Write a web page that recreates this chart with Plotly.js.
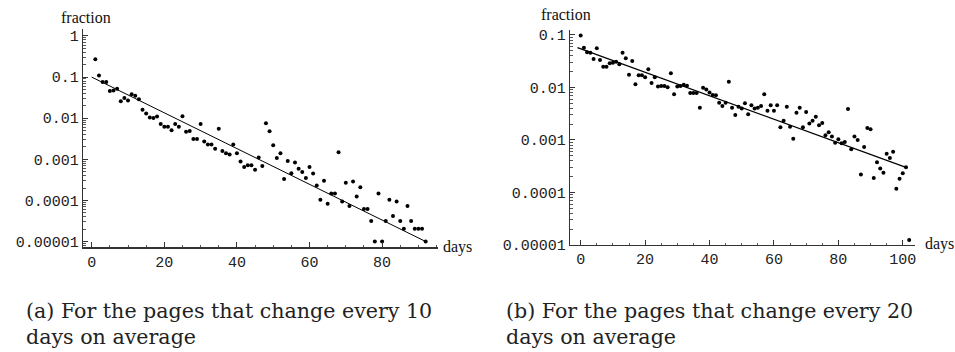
<!DOCTYPE html>
<html>
<head>
<meta charset="utf-8">
<script src="https://cdn.plot.ly/plotly-3.0.1.min.js"></script>
<style>
  html, body { margin: 0; padding: 0; background: #fff; }
  #chart { width: 955px; height: 352px; }
</style>
</head>
<body>
<div id="chart"></div>
<script>
// ---- Data: panel (a) pages that change every 10 days ----
const daysA = [1,2,3,4,5,6,7,8,9,10,11,12,13,14,15,16,17,18,19,20,
  21,22,23,24,25,26,27,28,29,30,31,32,33,34,35,36,37,38,39,40,
  41,42,43,44,45,46,47,48,49,50,51,52,53,54,55,56,57,58,59,60,
  61,62,63,64,65,66,67,68,69,70,71,72,73,74,75,76,77,78,79,80,
  81,82,83,84,85,86,87,88,89,90,91,92];
const fracA = [0.27,0.11,0.076,0.076,0.046,0.047,0.052,0.026,0.031,0.027,
  0.038,0.035,0.029,0.016,0.013,0.0104,0.0101,0.011,0.0072,0.0062,
  0.0062,0.0051,0.0072,0.0062,0.0112,0.0047,0.0049,0.0031,0.0031,0.0072,
  0.0027,0.0023,0.0023,0.0018,0.0055,0.0016,0.0014,0.0013,0.0023,0.0014,
  0.00089,0.00065,0.00072,0.00072,0.00056,0.0011,0.00069,0.0075,0.0048,0.0022,
  0.00107,0.00141,0.00033,0.00091,0.00046,0.00083,0.00059,0.00049,0.00035,0.00065,
  0.00045,0.00023,0.000103,0.0003,0.0000831,0.000147,0.000147,0.00149,0.000094,0.00027,
  0.000073,0.00029,0.000125,0.00021,0.000062,0.000062,0.0000316,0.00001,0.000147,0.00001,
  0.0000316,0.000103,0.0000417,0.000094,0.0000316,0.0000204,0.000073,0.0000316,0.0000204,0.0000204,
  0.0000204,0.00001];
const fitDaysA = [0, 92];
const fitFracA = [0.1, 0.00001];

// ---- Data: panel (b) pages that change every 20 days ----
const daysB = [0,1,2,3,4,5,6,7,8,9,10,11,12,13,14,15,16,17,18,19,
  20,21,22,23,24,25,26,27,28,29,30,31,32,33,34,35,36,37,38,39,
  40,41,42,43,44,45,46,47,48,49,50,51,52,53,54,55,56,57,58,59,
  60,61,62,63,64,65,66,67,68,69,70,71,72,73,74,75,76,77,78,79,
  80,81,82,83,84,85,86,87,88,89,90,91,92,93,94,95,96,97,98,99,
  100,101,102];
const fracB = [0.098,0.0574,0.0468,0.046,0.0349,0.0557,0.0334,0.0249,0.0249,0.0289,
  0.0297,0.031,0.0276,0.046,0.036,0.0175,0.032,0.0115,0.0171,0.0171,
  0.0156,0.0222,0.0122,0.0156,0.0104,0.0107,0.0107,0.0101,0.0186,0.0074,
  0.0104,0.0107,0.0113,0.0108,0.00785,0.00785,0.00785,0.00413,0.0099,0.0092,
  0.008,0.0072,0.0071,0.0051,0.00444,0.0051,0.0129,0.00413,0.003,0.00431,
  0.004,0.005,0.0031,0.00457,0.004,0.00413,0.00444,0.0074,0.00362,0.00457,
  0.00362,0.00457,0.00174,0.00233,0.00431,0.00179,0.00106,0.00332,0.00413,0.00174,
  0.00341,0.00207,0.00233,0.00278,0.0019,0.00211,0.00123,0.0014,0.00116,0.00089,
  0.00103,0.000865,0.000916,0.00389,0.000664,0.00116,0.001,0.000219,0.000736,0.00169,
  0.0016,0.000189,0.000376,0.000285,0.000239,0.00055,0.000454,0.0006,0.000118,0.000183,
  0.000232,0.000301,0.0000124];
const fitDaysB = [-1, 101];
const fitFracB = [0.0573, 0.000302];

// ---- Tick labels ----
const yTickValsA = [1, 0.1, 0.01, 0.001, 0.0001, 0.00001];
const yTickTextA = ['1', '0.1', '0.01', '0.001', '0.0001', '0.00001'];
const yTickValsB = [0.1, 0.01, 0.001, 0.0001, 0.00001];
const yTickTextB = ['0.1', '0.01', '0.001', '0.0001', '0.00001'];
const xTickValsA = [0, 20, 40, 60, 80];
const xTickValsB = [0, 20, 40, 60, 80, 100];

const captionA = ['(a) For the pages that change every 10', 'days on average'];
const captionB = ['(b) For the pages that change every 20', 'days on average'];

const W = 955, H = 352;
const px = v => v / W;
const py = v => (H - v) / H;

const monoFont = { family: 'Liberation Mono, Courier New, monospace', size: 15, color: '#222' };
const serifFont = { family: 'Liberation Serif, Times New Roman, serif', size: 16, color: '#111' };
const capFont = { family: 'DejaVu Serif, serif', size: 20.6, color: '#222' };

const traces = [
  { x: daysA, y: fracA, type: 'scatter', mode: 'markers', xaxis: 'x', yaxis: 'y',
    marker: { color: '#000', size: 4 }, hoverinfo: 'skip' },
  { x: fitDaysA, y: fitFracA, type: 'scatter', mode: 'lines', xaxis: 'x', yaxis: 'y',
    line: { color: '#000', width: 1 }, hoverinfo: 'skip' },
  { x: daysB, y: fracB, type: 'scatter', mode: 'markers', xaxis: 'x2', yaxis: 'y2',
    marker: { color: '#000', size: 4 }, hoverinfo: 'skip' },
  { x: fitDaysB, y: fitFracB, type: 'scatter', mode: 'lines', xaxis: 'x2', yaxis: 'y2',
    line: { color: '#000', width: 1.3 }, hoverinfo: 'skip' }
];

function xAxis(domain, range, tickvals, anchor) {
  return {
    domain: domain, range: range, anchor: anchor,
    showline: true, linecolor: '#333', linewidth: 1.2, mirror: false,
    showgrid: false, zeroline: false,
    tickmode: 'array', tickvals: tickvals, ticktext: tickvals.map(String),
    ticks: 'inside', ticklen: 5, tickcolor: '#333', tickwidth: 1,
    minor: { dtick: 5, ticks: 'inside', ticklen: 2.5, tickcolor: '#555', showgrid: false },
    tickfont: monoFont
  };
}
function yAxis(domain, range, tickvals, ticktext, anchor) {
  return {
    type: 'log', domain: domain, range: range, anchor: anchor,
    showline: true, linecolor: '#333', linewidth: 1.2, mirror: false,
    showgrid: false, zeroline: false,
    tickmode: 'array', tickvals: tickvals, ticktext: ticktext,
    ticks: 'inside', ticklen: 5, tickcolor: '#333', tickwidth: 1,
    minor: { dtick: 'D1', ticks: 'inside', ticklen: 2.5, tickcolor: '#555', showgrid: false },
    tickfont: monoFont
  };
}

const layout = {
  width: W, height: H,
  margin: { l: 0, r: 0, t: 0, b: 0 },
  paper_bgcolor: '#fff', plot_bgcolor: '#fff',
  showlegend: false,
  xaxis: xAxis([px(83), px(438)], [-2.4, 95.4], xTickValsA, 'y'),
  yaxis: yAxis([py(247.3), py(29)], [-5.141, 0.17], yTickValsA, yTickTextA, 'x'),
  xaxis2: xAxis([px(570), px(915)], [-3.32, 103.8], xTickValsB, 'y2'),
  yaxis2: yAxis([py(245), py(30)], [-5.0, -0.905], yTickValsB, yTickTextB, 'x2'),
  annotations: [
    { text: 'fraction', xref: 'paper', yref: 'paper', x: px(86), y: py(17),
      xanchor: 'center', yanchor: 'middle', showarrow: false, font: serifFont },
    { text: 'days', xref: 'paper', yref: 'paper', x: px(441), y: py(247),
      xanchor: 'left', yanchor: 'middle', showarrow: false, font: serifFont },
    { text: 'fraction', xref: 'paper', yref: 'paper', x: px(566), y: py(15),
      xanchor: 'center', yanchor: 'middle', showarrow: false, font: serifFont },
    { text: 'days', xref: 'paper', yref: 'paper', x: px(923), y: py(244),
      xanchor: 'left', yanchor: 'middle', showarrow: false, font: serifFont },
    { text: captionA[0], xref: 'paper', yref: 'paper', x: px(24), y: py(311),
      xanchor: 'left', yanchor: 'middle', showarrow: false, font: capFont },
    { text: captionA[1], xref: 'paper', yref: 'paper', x: px(24), y: py(337),
      xanchor: 'left', yanchor: 'middle', showarrow: false, font: capFont },
    { text: captionB[0], xref: 'paper', yref: 'paper', x: px(504), y: py(311),
      xanchor: 'left', yanchor: 'middle', showarrow: false, font: capFont },
    { text: captionB[1], xref: 'paper', yref: 'paper', x: px(504), y: py(337),
      xanchor: 'left', yanchor: 'middle', showarrow: false, font: capFont }
  ]
};

Plotly.newPlot('chart', traces, layout, { staticPlot: true, displayModeBar: false });
</script>
</body>
</html>
